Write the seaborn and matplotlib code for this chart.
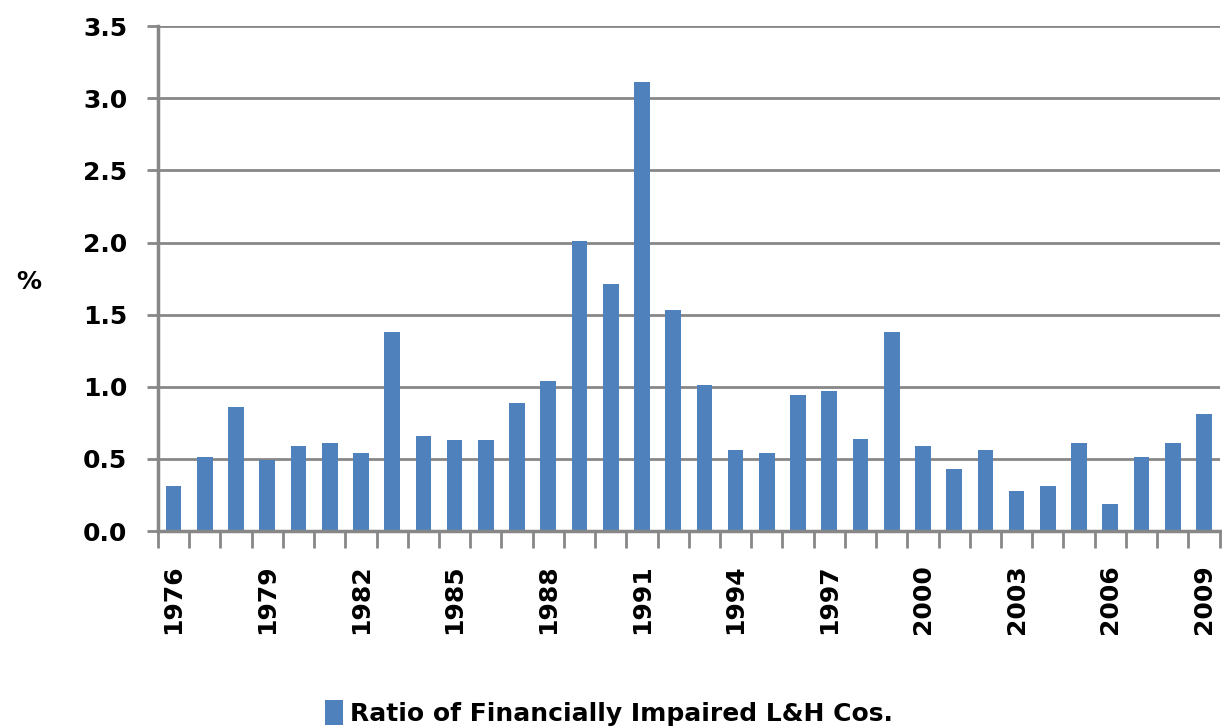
#!/usr/bin/env python3

import matplotlib
matplotlib.use("Agg")
import matplotlib.pyplot as plt
from matplotlib.ticker import FixedLocator, MultipleLocator
import pandas as pd
import seaborn as sns

# *** Data ***
years = list(range(1976, 2010))
ratios = [0.31, 0.51, 0.86, 0.49, 0.59, 0.61, 0.54, 1.38, 0.66, 0.63,
          0.63, 0.89, 1.04, 2.01, 1.71, 3.11, 1.53, 1.01, 0.56, 0.54,
          0.94, 0.97, 0.64, 1.38, 0.59, 0.43, 0.56, 0.28, 0.31, 0.61,
          0.19, 0.51, 0.61, 0.81]
series_name = "Ratio of Financially Impaired L&H Cos."
label_step = 3

BAR = "#4F81BD"
GRID = "#878787"
FS = 18

sns.set_style("white")
plt.rcParams['font.family'] = ['DejaVu Sans']
plt.rcParams['text.color'] = 'black'
plt.rcParams['axes.labelcolor'] = 'black'
plt.rcParams['xtick.color'] = 'black'
plt.rcParams['ytick.color'] = 'black'

df = pd.DataFrame({"year": [str(y) for y in years], "ratio": ratios})

fig = plt.figure(figsize=(12.22, 7.27), dpi=100)
ax = fig.add_axes([0.1293, 0.2696, 0.8687, 0.6944])

sns.barplot(data=df, x="year", y="ratio", color=BAR, saturation=1,
            width=0.5, linewidth=0, ax=ax, label=series_name)

# y axis
ax.set_ylim(0, 3.5)
ax.yaxis.set_major_locator(MultipleLocator(0.5))
ax.set_yticklabels([f"{v:.1f}" for v in ax.get_yticks()])
ax.yaxis.grid(True, color=GRID, linewidth=2)
ax.set_axisbelow(True)
ax.tick_params(axis="y", left=True, length=8, width=2, color=GRID,
               labelcolor="black", pad=14, labelsize=FS)
for lbl in ax.get_yticklabels():
    lbl.set_fontweight("bold")
ax.set_ylabel("%", rotation=0, fontsize=FS, fontweight="bold",
              color="black", labelpad=0)
ax.yaxis.set_label_coords(-0.122, 0.47)

# x axis: tick marks between every category, labels every third year
n = len(years)
ax.set_xlim(-0.5, n - 0.5)
ax.xaxis.set_minor_locator(FixedLocator([i - 0.5 for i in range(n + 1)]))
ax.set_xticks(range(0, n, label_step))
ax.set_xticklabels([str(years[i]) for i in range(0, n, label_step)],
                   rotation=90, fontsize=FS, fontweight="bold")
ax.tick_params(axis="x", which="major", bottom=True, length=0, pad=24,
               labelcolor="black")
ax.tick_params(axis="x", which="minor", bottom=True, length=12, width=2,
               color=GRID)
ax.set_xlabel("")

for side in ["top", "right"]:
    ax.spines[side].set_visible(False)
for side in ["left", "bottom"]:
    ax.spines[side].set_color(GRID)
    ax.spines[side].set_linewidth(2.5)

leg = ax.legend(loc="center", bbox_to_anchor=(0.425, -0.36),
                frameon=False, handlelength=0.7, handleheight=1.2,
                handletextpad=0.3, prop={"size": FS, "weight": "bold"})

fig.savefig("out.png", dpi=100)
